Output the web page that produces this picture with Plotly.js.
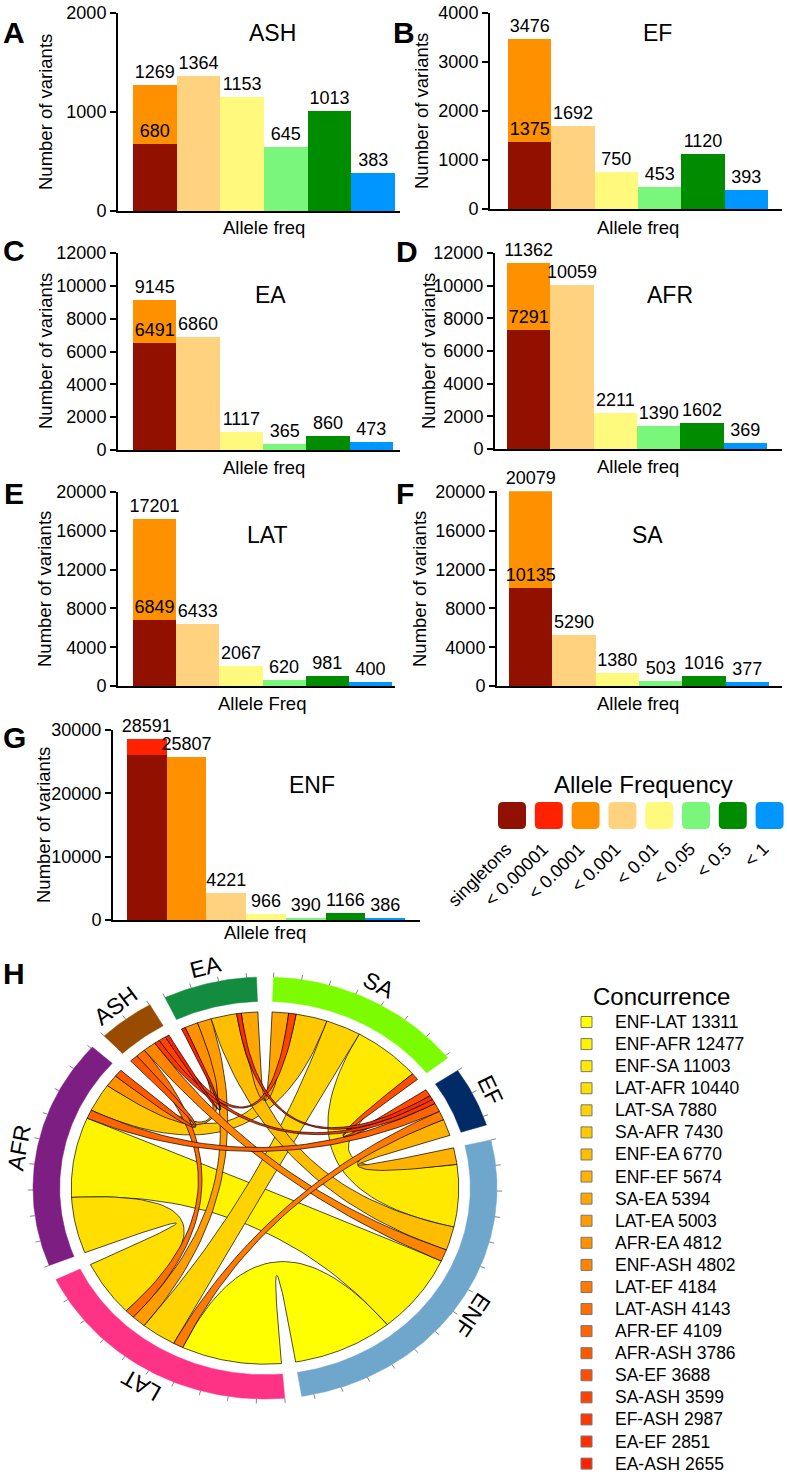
<!DOCTYPE html>
<html><head><meta charset="utf-8">
<script src="https://cdn.plot.ly/plotly-3.0.1.min.js"></script>
<style>html,body{margin:0;padding:0;background:#fff}#chart{width:787px;height:1481px}</style>
</head><body><div id="chart"></div>
<script>
const W = 787, H = 1481;
const FONT = 'Liberation Sans, Arial, Helvetica, sans-serif';

// ---------------- DATA ----------------
const freqClasses = ['singletons', '< 0.00001', '< 0.0001', '< 0.001', '< 0.01', '< 0.05', '< 0.5', '< 1'];
const freqColors = ['#911000', '#ff2200', '#ff9100', '#ffd27f', '#fffa7d', '#7af77a', '#008c00', '#0096ff'];

const populations = ['ASH', 'EF', 'EA', 'AFR', 'LAT', 'SA', 'ENF'];
const panelLetters = ['A', 'B', 'C', 'D', 'E', 'F', 'G'];
const xTitles = ['Allele freq', 'Allele freq', 'Allele freq', 'Allele freq', 'Allele Freq', 'Allele freq', 'Allele freq'];

// class of each bar (index into freqClasses)
const barClassesAF = [2, 3, 4, 5, 6, 7];
const barClassesG = [1, 2, 3, 4, 5, 6, 7];

const countsASH = [1269, 1364, 1153, 645, 1013, 383];
const countsEF = [3476, 1692, 750, 453, 1120, 393];
const countsEA = [9145, 6860, 1117, 365, 860, 473];
const countsAFR = [11362, 10059, 2211, 1390, 1602, 369];
const countsLAT = [17201, 6433, 2067, 620, 981, 400];
const countsSA = [20079, 5290, 1380, 503, 1016, 377];
const countsENF = [28591, 25807, 4221, 966, 390, 1166, 386];

// singletons (lower part of the first bar)
const singletons = [680, 1375, 6491, 7291, 6849, 10135, 26000];
const singletonLabelled = [true, true, true, true, true, true, false];

const yMax = [2000, 4000, 12000, 12000, 20000, 20000, 30000];
const yStep = [1000, 1000, 2000, 2000, 4000, 4000, 10000];

// chord diagram
const popOrder = ['SA', 'EF', 'ENF', 'LAT', 'AFR', 'ASH', 'EA']; // clockwise from top
const popRingColors = ['#7cfc00', '#002b66', '#6fa6cc', '#ff3385', '#7d1e82', '#994c00', '#138c3f'];
const pairA = ['ENF','ENF','ENF','LAT','LAT','SA','ENF','ENF','SA','LAT','AFR','ENF','LAT','LAT','AFR','AFR','SA','SA','EF','EA','EA'];
const pairB = ['LAT','AFR','SA','AFR','SA','AFR','EA','EF','EA','EA','EA','ASH','EF','ASH','EF','ASH','EF','ASH','ASH','EF','ASH'];
const concurrence = [13311,12477,11003,10440,7880,7430,6770,5674,5394,5003,4812,4802,4184,4143,4109,3786,3688,3599,2987,2851,2655];

// ---------------- LAYOUT GEOMETRY (pixels) ----------------
const boxes = [
  {x0:118,x1:400,y0:13,y1:211,b0:133,b1:395, L:[14,33], T:[272,33], XT:[264,228], YT:[45,112]},
  {x0:490,x1:782,y0:13,y1:209,b0:508,b1:768, L:[404,33], T:[657,33], XT:[638,228], YT:[422,111]},
  {x0:118,x1:400,y0:253,y1:450,b0:133,b1:393, L:[14,251], T:[270,295], XT:[264,467], YT:[45,351]},
  {x0:495,x1:782,y0:253,y1:449,b0:507,b1:767, L:[407,252], T:[670,295], XT:[638,466], YT:[428,351]},
  {x0:118,x1:395,y0:492,y1:686,b0:133,b1:392, L:[14,493], T:[267,535], XT:[262,703], YT:[45,589]},
  {x0:497,x1:782,y0:492,y1:686,b0:509,b1:769, L:[405,493], T:[647,535], XT:[638,703], YT:[420,589]},
  {x0:113,x1:420,y0:730,y1:920,b0:127,b1:405, L:[14,738], T:[312,785], XT:[265,932], YT:[43,825]}
];

const traces = [];
const layout = {
  width: W, height: H, margin: {l:0, r:0, t:0, b:0},
  paper_bgcolor: '#fff', plot_bgcolor: 'rgba(0,0,0,0)',
  showlegend: false, barmode: 'overlay', bargap: 0,
  font: {family: FONT, size: 18, color: '#000'},
  annotations: [], shapes: []
};
const ann = layout.annotations, shapes = layout.shapes;
function A(text, x, y, o) {
  const a = {text: text, x: x / W, y: 1 - y / H, xref: 'paper', yref: 'paper', showarrow: false,
    xanchor: 'center', yanchor: 'middle', font: {family: FONT, size: 18, color: '#000'}};
  if (o) { for (const k in o) { if (k === 'font') Object.assign(a.font, o.font); else a[k] = o[k]; } }
  ann.push(a);
}

const allCounts = [countsASH, countsEF, countsEA, countsAFR, countsLAT, countsSA, countsENF];

allCounts.forEach((counts, p) => {
  const b = boxes[p];
  const n = counts.length;
  const classes = n === 7 ? barClassesG : barClassesAF;
  const bw = (b.b1 - b.b0) / n;
  const xa = 'xaxis' + (p === 0 ? '' : p + 1), ya = 'yaxis' + (p === 0 ? '' : p + 1);
  const xr = 'x' + (p === 0 ? '' : p + 1), yr = 'y' + (p === 0 ? '' : p + 1);
  layout[xa] = {domain: [b.x0 / W, b.x1 / W], anchor: yr,
    range: [-0.5 - (b.b0 - b.x0) / bw, n - 0.5 + (b.x1 - b.b1) / bw],
    showline: true, linewidth: 2, linecolor: '#000', showgrid: false, zeroline: false,
    showticklabels: false, ticks: '', fixedrange: true};
  const tv = []; for (let v = 0; v <= yMax[p]; v += yStep[p]) tv.push(v);
  const top = Math.max(yMax[p], Math.max.apply(null, counts));
  const h = b.y1 - b.y0;
  layout[ya] = {domain: [1 - b.y1 / H, 1 - (b.y1 - h * top / yMax[p]) / H], anchor: xr, range: [0, top],
    showline: true, linewidth: 2, linecolor: '#000', showgrid: false, zeroline: false,
    ticks: 'outside', ticklen: 6, tickwidth: 2, tickcolor: '#000', tickvals: tv,
    ticktext: tv.map(String), tickfont: {family: FONT, size: 18, color: '#000'}, fixedrange: true};
  counts.forEach((v, j) => {
    traces.push({type: 'bar', x: [j], y: [v], width: 1, xaxis: xr, yaxis: yr,
      marker: {color: freqColors[classes[j]], line: {width: 0}},
      text: [String(v)], textposition: 'outside', constraintext: 'none', cliponaxis: false,
      textfont: {family: FONT, size: 18, color: '#000'},
      outsidetextfont: {family: FONT, size: 18, color: '#000'},
      hoverinfo: 'skip'});
  });
  traces.push({type: 'bar', x: [0], y: [singletons[p]], width: 1, xaxis: xr, yaxis: yr,
    marker: {color: freqColors[0], line: {width: 0}},
    text: [singletonLabelled[p] ? String(singletons[p]) : ''], textposition: 'outside',
    constraintext: 'none', cliponaxis: false,
    textfont: {family: FONT, size: 18, color: '#000'},
    outsidetextfont: {family: FONT, size: 18, color: '#000'}, hoverinfo: 'skip'});

  A('<b>' + panelLetters[p] + '</b>', b.L[0], b.L[1], {font: {size: 30}});
  A(populations[p], b.T[0], b.T[1], {font: {size: 23}});
  A(xTitles[p], b.XT[0], b.XT[1], {font: {size: 18.5}});
  A('Number of variants', b.YT[0], b.YT[1], {textangle: -90, font: {size: 18.5}});
});

// ---------------- Allele frequency legend ----------------
A('Allele Frequency', 643, 785, {font: {size: 24}});
const sqX0 = 498, sqPitch = 36.8, sqW = 28, sqY0 = 802, sqH = 27, rad = 5;
freqClasses.forEach((c, i) => {
  const x0 = sqX0 + i * sqPitch, x1 = x0 + sqW, y0 = sqY0, y1 = sqY0 + sqH;
  const X = v => (v / W).toFixed(5), Y = v => (1 - v / H).toFixed(5);
  const path = 'M' + X(x0 + rad) + ',' + Y(y0) + ' L' + X(x1 - rad) + ',' + Y(y0) +
    ' Q' + X(x1) + ',' + Y(y0) + ' ' + X(x1) + ',' + Y(y0 + rad) +
    ' L' + X(x1) + ',' + Y(y1 - rad) + ' Q' + X(x1) + ',' + Y(y1) + ' ' + X(x1 - rad) + ',' + Y(y1) +
    ' L' + X(x0 + rad) + ',' + Y(y1) + ' Q' + X(x0) + ',' + Y(y1) + ' ' + X(x0) + ',' + Y(y1 - rad) +
    ' L' + X(x0) + ',' + Y(y0 + rad) + ' Q' + X(x0) + ',' + Y(y0) + ' ' + X(x0 + rad) + ',' + Y(y0) + ' Z';
  shapes.push({type: 'path', xref: 'paper', yref: 'paper', path: path,
    fillcolor: freqColors[i], line: {width: 0}});
  A(c, x0 + sqW / 2 + 6, 836, {textangle: -45, xanchor: 'right', yanchor: 'top', font: {size: 18}});
});

// ---------------- Chord diagram ----------------
const cx = 265, cy = 1188, RX = 232, RY = 211, LIM = 1.14;
layout.xaxis8 = {domain: [(cx - LIM * RX) / W, (cx + LIM * RX) / W], range: [-LIM, LIM], visible: false, fixedrange: true, anchor: 'y8'};
layout.yaxis8 = {domain: [1 - (cy + LIM * RY) / H, 1 - (cy - LIM * RY) / H], range: [-LIM, LIM], visible: false, fixedrange: true, anchor: 'x8'};

const NS = popOrder.length;
const gapDeg = 4.2;
const popIdx = {}; popOrder.forEach((p, i) => popIdx[p] = i);
const weights = concurrence.map(v => v * v);
const secTotal = popOrder.map(() => 0);
pairA.forEach((a, k) => { secTotal[popIdx[a]] += weights[k]; secTotal[popIdx[pairB[k]]] += weights[k]; });
const grand = secTotal.reduce((s, v) => s + v, 0);
const degPerW = (360 - NS * gapDeg) / grand;
const secStart = [], secEnd = [];
let cur = gapDeg / 2;
for (let i = 0; i < NS; i++) { secStart[i] = cur; cur += secTotal[i] * degPerW; secEnd[i] = cur; cur += gapDeg; }

const ends = concurrence.map(() => ({}));
for (let i = 0; i < NS; i++) {
  let pos = secStart[i];
  for (let o = NS - 1; o >= 1; o--) {
    const j = (i + o) % NS;
    for (let k = 0; k < concurrence.length; k++) {
      const a = popIdx[pairA[k]], b = popIdx[pairB[k]];
      if ((a === i && b === j) || (a === j && b === i)) {
        const w = weights[k] * degPerW;
        ends[k][i] = [pos, pos + w];
        pos += w;
      }
    }
  }
}
const rad2 = Math.PI / 180;
function pt(r, t) { return [r * Math.sin(t * rad2), r * Math.cos(t * rad2)]; }
function arc(r, t1, t2, xs, ys) {
  const n = Math.max(2, Math.ceil(Math.abs(t2 - t1) / 0.7));
  for (let s = 0; s <= n; s++) { const q = pt(r, t1 + (t2 - t1) * s / n); xs.push(q[0]); ys.push(q[1]); }
}
function bez(p0, p2, xs, ys) {
  for (let s = 1; s < 40; s++) { const t = s / 40; const u = 1 - t;
    xs.push(u * u * p0[0] + t * t * p2[0]); ys.push(u * u * p0[1] + t * t * p2[1]); }
}
const RC = 0.835;
function ribbonColor(k) {
  const g = Math.round(255 - k * (255 - 34) / (concurrence.length - 1));
  return 'rgb(255,' + g + ',0)';
}
// ribbons
concurrence.forEach((v, k) => {
  const ea = ends[k][popIdx[pairA[k]]], eb = ends[k][popIdx[pairB[k]]];
  const xs = [], ys = [];
  arc(RC, ea[0], ea[1], xs, ys);
  bez(pt(RC, ea[1]), pt(RC, eb[0]), xs, ys);
  arc(RC, eb[0], eb[1], xs, ys);
  bez(pt(RC, eb[1]), pt(RC, ea[0]), xs, ys);
  xs.push(xs[0]); ys.push(ys[0]);
  traces.push({type: 'scatter', mode: 'lines', x: xs, y: ys, xaxis: 'x8', yaxis: 'y8',
    fill: 'toself', fillcolor: ribbonColor(k), line: {color: '#000', width: 0.7},
    hoverinfo: 'skip'});
});
// ring sectors
const RI = 0.885, RO = 1.0;
popOrder.forEach((p, i) => {
  const xs = [], ys = [];
  arc(RO, secStart[i], secEnd[i], xs, ys);
  arc(RI, secEnd[i], secStart[i], xs, ys);
  xs.push(xs[0]); ys.push(ys[0]);
  traces.push({type: 'scatter', mode: 'lines', x: xs, y: ys, xaxis: 'x8', yaxis: 'y8',
    fill: 'toself', fillcolor: popRingColors[i], line: {color: popRingColors[i], width: 0.5},
    hoverinfo: 'skip'});
  // tick marks
  const tx = [], ty = [];
  for (let t = secStart[i]; t <= secEnd[i] + 0.01; t += 7) {
    const a = pt(RO, t), b = pt(RO + 0.022, t);
    tx.push(a[0], b[0], null); ty.push(a[1], b[1], null);
  }
  traces.push({type: 'scatter', mode: 'lines', x: tx, y: ty, xaxis: 'x8', yaxis: 'y8',
    line: {color: '#666', width: 0.8}, hoverinfo: 'skip'});
  // label
  const tc = (secStart[i] + secEnd[i]) / 2;
  const lp = pt(1.078, tc);
  let ang = tc; if (ang > 180) ang -= 360;
  ann.push({text: p, x: lp[0], y: lp[1], xref: 'x8', yref: 'y8', showarrow: false,
    xanchor: 'center', yanchor: 'middle', textangle: ang,
    font: {family: FONT, size: 23, color: '#000'}});
});
A('<b>H</b>', 14, 973, {font: {size: 30}});

// ---------------- Concurrence legend ----------------
A('Concurrence', 661, 996, {font: {size: 24}});
concurrence.forEach((v, k) => {
  const yc = 1022 + k * 22.08;
  shapes.push({type: 'rect', xref: 'paper', yref: 'paper',
    x0: 581 / W, x1: 592 / W, y0: 1 - (yc + 5.5) / H, y1: 1 - (yc - 5.5) / H,
    fillcolor: ribbonColor(k), line: {color: '#777', width: 1}});
  A(pairA[k] + '-' + pairB[k] + ' ' + v, 613, yc, {xanchor: 'left', font: {size: 17.5}});
});

Plotly.newPlot('chart', traces, layout, {staticPlot: true, displayModeBar: false});
</script>
</body></html>
